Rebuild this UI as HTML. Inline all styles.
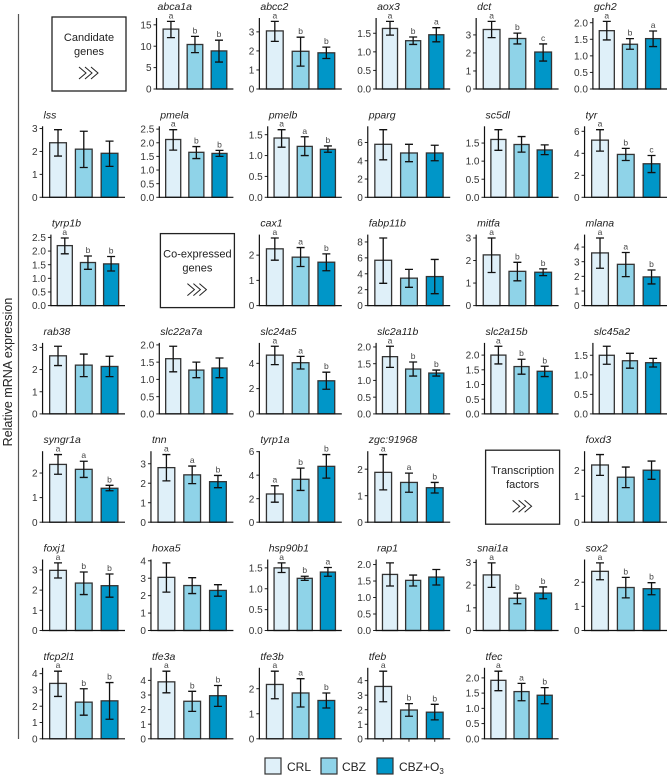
<!DOCTYPE html>
<html><head><meta charset="utf-8">
<style>
html,body{margin:0;padding:0;background:#fff;}
svg{display:block;font-family:"Liberation Sans",Arial,sans-serif;}
</style></head>
<body>
<svg id="chart" width="669" height="776" viewBox="0 0 669 776" xmlns="http://www.w3.org/2000/svg">
<text x="12" y="372" font-size="12.5" fill="#222" text-anchor="middle" transform="rotate(-90 12 372)">Relative mRNA expression</text>
<line x1="18.5" y1="14" x2="18.5" y2="739" stroke="#555" stroke-width="1.2"/>
<g id="panels"></g>
<g id="legend">
 <rect x="265" y="758" width="16" height="16" fill="#dff0f9" stroke="#333" stroke-width="1.2"/>
 <text x="287" y="771" font-size="12" fill="#222">CRL</text>
 <rect x="321" y="758" width="16" height="16" fill="#8fd3e8" stroke="#333" stroke-width="1.2"/>
 <text x="342" y="771" font-size="12" fill="#222">CBZ</text>
 <rect x="377" y="758" width="16" height="16" fill="#0096c8" stroke="#333" stroke-width="1.2"/>
 <text x="399" y="771" font-size="12" fill="#222">CBZ+O<tspan font-size="8" dy="3">3</tspan></text>
</g>
</svg>
<script>
const genes=["abca1a","abcc2","aox3","dct","gch2","lss","pmela","pmelb","pparg","sc5dl","tyr","tyrp1b","cax1","fabp11b","mitfa","mlana","rab38","slc22a7a","slc24a5","slc2a11b","slc2a15b","slc45a2","syngr1a","tnn","tyrp1a","zgc:91968","foxd3","foxj1","hoxa5","hsp90b1","rap1","snai1a","sox2","tfcp2l1","tfe3a","tfe3b","tfeb","tfec"];
const meanVals=[[14.0,10.4,8.9],[3.05,1.98,1.9],[1.63,1.3,1.46],[3.3,2.8,2.05],[1.76,1.35,1.52],[2.38,2.1,1.92],[2.12,1.65,1.61],[1.42,1.22,1.15],[5.8,4.85,4.85],[1.6,1.46,1.31],[5.2,3.9,3.05],[2.2,1.58,1.53],[2.25,1.92,1.72],[5.7,3.45,3.65],[2.25,1.52,1.48],[3.6,2.82,1.96],[2.62,2.2,2.14],[1.6,1.27,1.33],[4.65,4.05,2.62],[1.71,1.34,1.22],[2.0,1.61,1.45],[1.5,1.36,1.31],[2.35,2.15,1.38],[2.8,2.43,2.08],[2.4,3.65,4.75],[1.88,1.5,1.3],[2.2,1.73,2.0],[2.98,2.35,2.22],[3.05,2.58,2.3],[1.5,1.25,1.4],[1.7,1.52,1.62],[2.45,1.42,1.65],[2.45,1.78,1.73],[3.4,2.25,2.33],[3.9,2.57,2.95],[2.17,1.83,1.53],[3.6,1.98,1.83],[1.92,1.55,1.43]];
const lowVals=[[12.0,8.5,6.3],[2.5,1.2,1.6],[1.45,1.2,1.27],[2.85,2.5,1.55],[1.48,1.2,1.28],[1.8,1.3,1.35],[1.73,1.42,1.5],[1.2,1.0,1.08],[4.1,3.9,4.0],[1.3,1.25,1.18],[4.2,3.35,2.25],[1.9,1.33,1.27],[1.8,1.55,1.38],[2.8,2.3,1.5],[1.47,1.1,1.33],[2.55,1.98,1.48],[2.18,1.68,1.68],[1.22,1.05,1.05],[3.9,3.55,1.95],[1.39,1.13,1.13],[1.7,1.35,1.27],[1.27,1.17,1.2],[1.95,1.82,1.28],[2.12,1.98,1.77],[1.7,2.7,3.75],[1.22,1.13,1.1],[1.8,1.33,1.65],[2.6,1.78,1.65],[2.2,2.12,1.97],[1.39,1.2,1.3],[1.35,1.35,1.38],[1.9,1.18,1.4],[2.1,1.35,1.48],[2.6,1.45,1.2],[3.15,1.88,2.22],[1.6,1.27,1.23],[2.55,1.55,1.3],[1.58,1.25,1.15]];
const highVals=[[15.8,12.3,11.4],[3.55,2.72,2.2],[1.82,1.4,1.65],[3.75,3.1,2.5],[2.04,1.52,1.75],[2.95,2.88,2.45],[2.48,1.86,1.72],[1.62,1.45,1.23],[7.4,5.8,5.7],[1.87,1.68,1.45],[6.15,4.45,3.8],[2.48,1.82,1.8],[2.68,2.3,2.05],[8.5,4.55,5.8],[3.0,1.92,1.63],[4.62,3.63,2.43],[3.05,2.7,2.6],[1.96,1.5,1.62],[5.35,4.55,3.3],[2.02,1.55,1.31],[2.3,1.86,1.62],[1.73,1.55,1.42],[2.75,2.48,1.5],[3.47,2.88,2.4],[3.1,4.6,5.75],[2.55,1.85,1.5],[2.6,2.12,2.35],[3.35,2.9,2.8],[3.88,3.03,2.63],[1.62,1.3,1.51],[2.05,1.68,1.85],[2.98,1.65,1.92],[2.8,2.2,1.98],[4.15,3.07,3.45],[4.63,3.25,3.65],[2.7,2.4,1.83],[4.65,2.42,2.37],[2.22,1.82,1.68]];
const sigLetters=[["a","b","b"],["a","b","b"],["a","b","a"],["a","b","c"],["a","b","a"],["","",""],["a","b","b"],["a","a","b"],["","",""],["","",""],["a","b","c"],["a","b","b"],["a","a","b"],["","",""],["a","b","b"],["a","a","b"],["","",""],["","",""],["a","a","b"],["a","b","b"],["a","b","b"],["","",""],["a","a","b"],["a","a","b"],["a","b","b"],["a","a","b"],["","",""],["a","b","b"],["","",""],["a","b","a"],["","",""],["a","b","b"],["a","b","b"],["a","b","b"],["a","b","b"],["a","a","b"],["a","b","b"],["a","a","b"]];
const yTicks=[[0,5,10,15],[0,1,2,3],[0,0.5,1,1.5],[0,1,2,3],[0,0.5,1,1.5,2],[0,1,2,3],[0,0.5,1,1.5,2,2.5],[0,0.5,1,1.5],[0,2,4,6],[0,0.5,1,1.5],[0,2,4,6],[0,0.5,1,1.5,2,2.5],[0,1,2],[0,2,4,6,8],[0,1,2,3],[0,1,2,3,4],[0,1,2,3],[0,0.5,1,1.5,2],[0,2,4],[0,0.5,1,1.5,2],[0,0.5,1,1.5,2],[0,0.5,1,1.5],[0,1,2],[0,1,2,3],[0,2,4,6],[0,1,2],[0,1,2],[0,1,2,3],[0,1,2,3,4],[0,0.5,1,1.5],[0,0.5,1,1.5,2],[0,1,2,3],[0,1,2],[0,1,2,3,4],[0,1,2,3,4],[0,1,2],[0,1,2,3,4],[0,0.5,1,1.5,2]];
const groupColors=["#dff0f9","#8fd3e8","#0096c8"];
const boxSlots=[0,13,28];
const boxTitles=[["Candidate","genes"],["Co-expressed","genes"],["Transcription","factors"]];

const NS="http://www.w3.org/2000/svg";
const root=document.getElementById("panels");
function mk(tag,attrs,parent){const e=document.createElementNS(NS,tag);for(const k in attrs)e.setAttribute(k,attrs[k]);parent.appendChild(e);return e;}
function colLeft(c){return 31+c*108.4;}
function rowBase(r){return 89+r*108.3;}
const PW=94, PH=71, FS=10;
function txtW(s){let w=0;for(const ch of s)w+=(ch==="."?2.78:5.56)*FS/10;return w;}

// boxes
boxSlots.forEach((s,i)=>{
  const r=Math.floor(s/6),c=s%6;const L=colLeft(c)+21,B=rowBase(r);
  const g=mk("g",{},root);
  
  
  mk("rect",{x:L,y:B-72,width:74,height:74,fill:"#fff",stroke:"#222","stroke-width":1.3},g);
  const t1=mk("text",{x:L+37,y:B-48,"font-size":11,"text-anchor":"middle",fill:"#222"},g);t1.textContent=boxTitles[i][0];
  const t2=mk("text",{x:L+37,y:B-34,"font-size":11,"text-anchor":"middle",fill:"#222"},g);t2.textContent=boxTitles[i][1];
  for(let k=0;k<3;k++){const x0=L+27+k*6;mk("polyline",{points:`${x0},${B-22} ${x0+7},${B-16} ${x0},${B-10}`,fill:"none",stroke:"#222","stroke-width":1},g);}
});

let slot=0;
genes.forEach((gene,gi)=>{
  while(boxSlots.includes(slot))slot++;
  const r=Math.floor(slot/6),c=slot%6;slot++;
  const L=colLeft(c),R=L+PW,B=rowBase(r),T=B-PH;
  const ticks=yTicks[gi];const dec=ticks.some(v=>v%1!==0);
  const labels=ticks.map(v=>dec?v.toFixed(1):String(v));
  const lw=Math.max(...labels.map(txtW));
  const ax=L+lw+6;
  const ymax=Math.max(...highVals[gi])*1.05;
  const y=v=>B-v/ymax*PH;
  const u=(R-ax)/3.2;
  const g=mk("g",{},root);
  
  
  const title=mk("text",{x:ax+1,y:B-79,"font-size":10.5,"font-style":"italic",fill:"#222"},g);
  
  
  title.textContent=gene;
  ticks.forEach((v,ti)=>{
    mk("line",{x1:ax-3,x2:ax,y1:y(v),y2:y(v),stroke:"#222","stroke-width":1},g);
    const t=mk("text",{x:ax-5,y:y(v)+3.6,"font-size":FS,"text-anchor":"end",fill:"#333"},g);
    
    
    t.textContent=labels[ti];
  });
  for(let k=0;k<3;k++){
    const cx=ax+(k+0.6)*u,bw=0.65*u;
    const bar=mk("rect",{x:cx-bw/2,y:y(meanVals[gi][k]),width:bw,height:B-y(meanVals[gi][k]),fill:groupColors[k],stroke:"#333","stroke-width":1.3},g);
    
    
    const eb=mk("path",{d:`M${cx},${y(lowVals[gi][k])}V${y(highVals[gi][k])}M${cx-4},${y(lowVals[gi][k])}H${cx+4}M${cx-4},${y(highVals[gi][k])}H${cx+4}`,stroke:"#111","stroke-width":1.3,fill:"none"},g);
    
    
    if(sigLetters[gi][k]){
      const lt=mk("text",{x:cx,y:y(highVals[gi][k])-3,"font-size":8.5,"text-anchor":"middle",fill:"#444"},g);
      
      
      lt.textContent=sigLetters[gi][k];
    }
    if(gene==="tfeb")mk("line",{x1:cx,x2:cx,y1:B,y2:B+3,stroke:"#222","stroke-width":1},g);
  }
  mk("line",{x1:ax,x2:ax,y1:T,y2:B+0.6,stroke:"#111","stroke-width":1.2},g);
  mk("line",{x1:ax,x2:R,y1:B,y2:B,stroke:"#111","stroke-width":1.2},g);
});
</script>
</body></html>
